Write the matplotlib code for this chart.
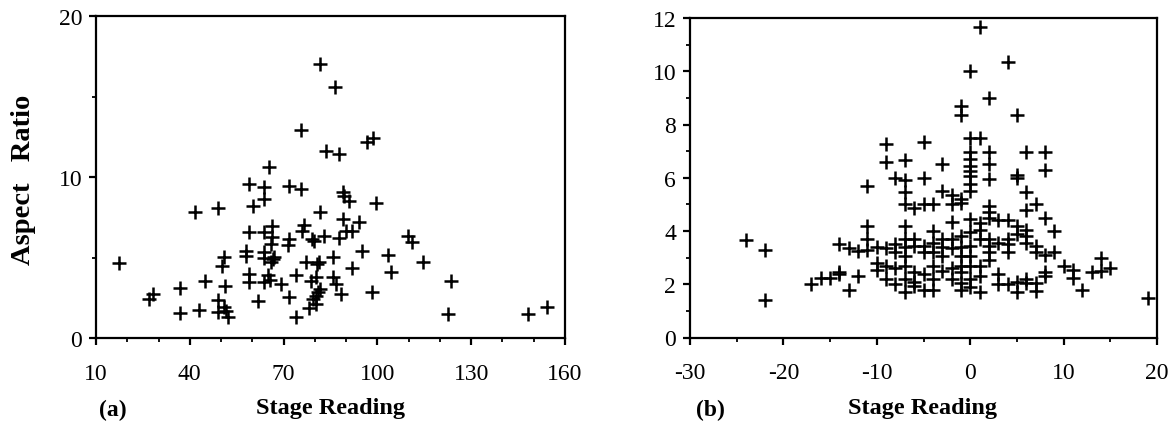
import matplotlib
matplotlib.use("Agg")
import matplotlib.pyplot as plt
from matplotlib.ticker import MultipleLocator

plt.rcParams['font.family'] = ['Liberation Serif', 'DejaVu Serif']
plt.rcParams['axes.unicode_minus'] = False

# ---- panel (a) data ----
a_stage = [17.4, 26.8, 28.1, 37.0, 37.0, 41.6, 43.1, 45.0, 49.1, 49.1, 49.1, 50.2, 50.9, 51.2,
           50.9, 52.3, 51.5, 57.9, 57.9, 58.9, 58.9, 59.0, 59.0, 60.2, 61.9, 63.7, 63.7, 63.7,
           63.7, 63.7, 63.7, 65.3, 66.2, 66.2, 66.0, 66.0, 66.5, 67.0, 65.0, 65.5, 69.1, 71.8,
           71.8, 71.4, 71.8, 74.1, 74.1, 75.5, 75.5, 75.8, 76.5, 77.1, 78.0, 78.7, 79.2, 79.8,
           80.3, 80.5, 80.8, 81.3, 81.0, 81.6, 81.6, 81.8, 82.9, 83.7, 85.9, 85.9, 86.5, 86.7,
           87.8, 87.8, 88.3, 88.9, 89.4, 89.1, 90.0, 90.8, 91.8, 92.0, 94.2, 95.0, 96.6, 98.5,
           98.3, 99.6, 103.3, 104.4, 109.7, 111.1, 114.5, 123.6, 122.5, 148.2, 154.3, 79.4, 80.5]
a_ratio = [4.66, 2.42, 2.73, 3.08, 1.55, 7.8, 1.76, 3.56, 8.05, 2.36, 1.59, 4.49, 5.01, 3.21,
           1.9, 1.28, 1.7, 5.11, 5.4, 9.57, 6.56, 3.98, 3.46, 8.18, 2.32, 9.36, 8.63, 6.56,
           5.32, 5.0, 3.46, 10.6, 6.98, 6.25, 5.84, 4.7, 4.9, 5.05, 3.9, 3.6, 3.35, 9.46,
           2.53, 5.8, 6.15, 3.91, 1.28, 12.9, 9.25, 6.67, 7.0, 4.7, 1.84, 3.56, 6.15, 6.05,
           2.11, 3.77, 4.6, 4.75, 2.84, 17.0, 7.85, 3.04, 6.36, 11.6, 5.01, 3.77, 15.6, 3.35,
           11.4, 6.19, 2.73, 9.09, 8.84, 7.39, 6.67, 8.53, 6.67, 4.33, 7.18, 5.42, 12.2, 12.4,
           2.88, 8.38, 5.16, 4.08, 6.36, 5.94, 4.74, 3.56, 1.49, 1.49, 1.9, 2.4, 2.6]

# ---- panel (b) data: aspect ratios grouped by stage reading ----
b_columns = {
    -24: [3.65],
    -22: [3.3, 1.4],
    -17: [2.0],
    -16: [2.25],
    -15: [2.25],
    -14: [3.5, 2.4, 2.45],
    -13: [3.35, 1.8],
    -12: [3.25, 2.3],
    -11: [5.7, 4.2, 3.7, 3.3],
    -10: [3.4, 2.8, 2.55],
    -9: [7.25, 6.6, 3.35, 2.7, 2.2],
    -8: [6.0, 3.5, 3.2, 2.6, 2.0],
    -7: [6.65, 5.9, 5.45, 5.0, 4.2, 3.7, 3.4, 3.05, 2.7, 2.2, 1.7],
    -6: [4.85, 3.7, 3.45, 2.45, 2.1, 1.95],
    -5: [7.35, 6.0, 5.0, 3.45, 3.2, 2.4, 1.8],
    -4: [5.0, 4.0, 3.55, 3.2, 2.7, 2.2, 1.8],
    -3: [6.5, 5.5, 3.7, 3.4, 3.05, 2.5],
    -2: [5.35, 5.0, 4.35, 3.7, 3.35, 2.6, 2.2],
    -1: [8.7, 8.35, 5.2, 5.05, 3.8, 3.4, 3.05, 2.7, 2.45, 2.05, 1.8],
    0: [10.0, 7.5, 6.95, 6.7, 6.45, 6.25, 6.05, 5.75, 5.5, 4.45, 3.95, 3.45, 3.05, 2.7, 2.2, 1.9],
    1: [11.65, 7.5, 4.3, 4.05, 3.7, 2.7, 2.3, 1.7],
    2: [9.0, 6.95, 6.5, 5.95, 4.95, 4.7, 4.5, 3.7, 3.45, 3.2, 2.9],
    3: [4.4, 3.55, 2.4, 2.0],
    4: [10.35, 4.4, 3.7, 3.5, 3.2, 2.0],
    5: [8.35, 6.1, 6.0, 4.2, 3.9, 2.1, 1.7],
    6: [6.95, 5.45, 4.8, 4.05, 3.8, 3.55, 2.2, 2.05],
    7: [5.0, 3.45, 3.2, 2.05, 1.75],
    8: [6.95, 6.3, 4.5, 3.1, 2.45, 2.3],
    9: [4.0, 3.2],
    10: [2.7],
    11: [2.55, 2.25],
    12: [1.8],
    13: [2.45],
    14: [3.0, 2.5],
    15: [2.6],
    19: [1.5],
}
b_stage = [s for s, vals in b_columns.items() for _ in vals]
b_ratio = [v for vals in b_columns.values() for v in vals]

a_xticks = [10, 40, 70, 100, 130, 160]
a_yticks = [0, 10, 20]
b_xticks = [-30, -20, -10, 0, 10, 20]
b_yticks = [0, 2, 4, 6, 8, 10, 12]

W, H = 1171, 427
fig = plt.figure(figsize=(W / 100, H / 100), dpi=100)
ax1 = fig.add_axes([96 / W, 1 - 339 / H, (565 - 96) / W, (339 - 17) / H])
ax2 = fig.add_axes([690 / W, 1 - 338.5 / H, (1157 - 690) / W, (338.5 - 19) / H])

mk = dict(marker='+', color='black', linestyle='none', markersize=9.5, markeredgewidth=1.8)

ax1.plot(a_stage, a_ratio, **mk)
ax1.set_xlim(10, 160)
ax1.set_ylim(0, 20)
ax1.set_xticks(a_xticks)
ax1.set_yticks(a_yticks)
ax1.xaxis.set_minor_locator(MultipleLocator(10))
ax1.yaxis.set_minor_locator(MultipleLocator(5))

ax2.plot(b_stage, b_ratio, **mk)
ax2.set_xlim(-30, 20)
ax2.set_ylim(0, 12)
ax2.set_xticks(b_xticks)
ax2.set_yticks(b_yticks)
ax2.xaxis.set_minor_locator(MultipleLocator(5))
ax2.yaxis.set_minor_locator(MultipleLocator(1))

for ax in (ax1, ax2):
    for sp in ax.spines.values():
        sp.set_linewidth(1.6)
        sp.set_color('black')
    ax.tick_params(which='major', direction='out', length=5, width=1.6, labelsize=17)
    ax.tick_params(which='minor', direction='out', length=3, width=1.3)
    ax.tick_params(axis='x', which='major', pad=13)
    ax.tick_params(axis='y', which='major', pad=5)

lab = dict(fontsize=17.5, fontweight='bold', va='center', ha='center')
fig.text(330 / W, 1 - 409 / H, 'Stage Reading', **lab)
fig.text(923 / W, 1 - 409 / H, 'Stage Reading', **lab)
fig.text(24 / W, 1 - 180 / H, 'Aspect   Ratio', rotation=90, fontsize=20.5,
         fontweight='bold', va='center', ha='center')
fig.text(99 / W, 1 - 410 / H, '(a)', fontsize=17, fontweight='bold', va='center', ha='left')
fig.text(696 / W, 1 - 410 / H, '(b)', fontsize=17, fontweight='bold', va='center', ha='left')

fig.savefig('out.png', dpi=100, facecolor='white')
